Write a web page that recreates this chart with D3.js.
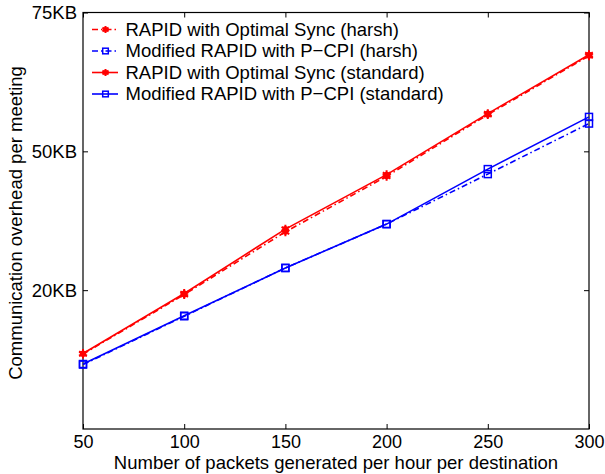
<!DOCTYPE html>
<html>
<head>
<meta charset="utf-8">
<script src="https://cdn.jsdelivr.net/npm/d3@7"></script>
<style>
  body { margin: 0; background: #fff; }
  text { font-family: "Liberation Sans", Arial, sans-serif; fill: #000; }
</style>
</head>
<body>
<svg id="chart" width="605" height="474"></svg>
<script>
// data
let packets = [50, 100, 150, 200, 250, 300];
let rapid_harsh    = [13.5, 24.2, 35.5, 45.5, 56.6, 67.2];
let pcpi_harsh     = [11.6, 20.3, 29.0, 36.9, 45.9, 55.0];
let rapid_standard = [13.6, 24.4, 36.0, 45.8, 56.8, 67.4];
let pcpi_standard  = [11.7, 20.4, 29.0, 36.9, 46.8, 56.2];
let y_ticks = [25, 50, 75];
let y_tick_labels = ["20KB", "50KB", "75KB"];
let series_names = [
    "RAPID with Optimal Sync (harsh)",
    "Modified RAPID with P\u2212CPI (harsh)",
    "RAPID with Optimal Sync (standard)",
    "Modified RAPID with P\u2212CPI (standard)"
];

let chart = d3.select("#chart");
let plot = {left: 83, right: 589, top: 12.5, bottom: 429};
let font_size = "18.5px";

// scales
let x = d3.scaleLinear().domain([50, 300]).range([plot.left, plot.right]);
let y = d3.scaleLinear().domain([0, 75]).range([plot.bottom, plot.top]);

let series = [
    {name: series_names[0], values: rapid_harsh,    color: "#ff0000", dash: "6,3,1.5,3", marker: "star"},
    {name: series_names[1], values: pcpi_harsh,     color: "#0000ff", dash: "6,3,1.5,3", marker: "square"},
    {name: series_names[2], values: rapid_standard, color: "#ff0000", dash: null, marker: "star"},
    {name: series_names[3], values: pcpi_standard,  color: "#0000ff", dash: null, marker: "square"}
];

// axes box
chart.append("rect")
    .attr("x", plot.left).attr("y", plot.top)
    .attr("width", plot.right - plot.left).attr("height", plot.bottom - plot.top)
    .attr("fill", "none").attr("stroke", "#000").attr("stroke-width", 1.2);

// x axis (ticks pointing inward, also mirrored at top)
let xAxis = chart.append("g")
    .attr("transform", "translate(0," + plot.bottom + ")")
    .call(d3.axisBottom(x).tickValues(packets).tickSize(-5).tickPadding(5));
xAxis.select(".domain").remove();
xAxis.selectAll("line").attr("stroke", "#000");
xAxis.selectAll("text").style("font-size", "18px").attr("dy", "0.75em");

let xTop = chart.append("g")
    .attr("transform", "translate(0," + plot.top + ")")
    .call(d3.axisTop(x).tickValues(packets).tickSize(-5).tickFormat(""));
xTop.select(".domain").remove();

// y axis with custom labels
let yAxis = chart.append("g")
    .attr("transform", "translate(" + plot.left + ",0)")
    .call(d3.axisLeft(y).tickValues(y_ticks).tickSize(-5).tickPadding(6)
        .tickFormat(function(d, i) { return y_tick_labels[i]; }));
yAxis.select(".domain").remove();
yAxis.selectAll("text").style("font-size", font_size);

let yRight = chart.append("g")
    .attr("transform", "translate(" + plot.right + ",0)")
    .call(d3.axisRight(y).tickValues(y_ticks).tickSize(-5).tickFormat(""));
yRight.select(".domain").remove();

// axis titles
chart.append("text")
    .attr("x", 336).attr("y", 469)
    .attr("text-anchor", "middle")
    .style("font-size", font_size)
    .text("Number of packets generated per hour per destination");

chart.append("text")
    .attr("transform", "translate(16,223) rotate(-90)")
    .attr("text-anchor", "middle")
    .attr("dy", "0.35em")
    .style("font-size", font_size)
    .text("Communication overhead per meeting");

// lines
let line = d3.line()
    .x(function(d, i) { return x(packets[i]); })
    .y(function(d) { return y(d); });

function drawMarker(g, type, cx, cy, color, k) {
    if (type === "square") {
        g.append("rect")
            .attr("x", cx - 3.5 * k).attr("y", cy - 3.5 * k)
            .attr("width", 7 * k).attr("height", 7 * k)
            .attr("fill", "none").attr("stroke", color).attr("stroke-width", 1.5);
    } else {
        g.append("path")
            .attr("d", d3.symbol().type(d3.symbolAsterisk).size(55 * k * k)())
            .attr("transform", "translate(" + cx + "," + cy + ")")
            .attr("fill", "none").attr("stroke", color).attr("stroke-width", 2);
        g.append("circle")
            .attr("cx", cx).attr("cy", cy).attr("r", 3 * k)
            .attr("fill", color);
    }
}

series.forEach(function(s) {
    let g = chart.append("g");
    g.append("path")
        .datum(s.values)
        .attr("d", line)
        .attr("fill", "none")
        .attr("stroke", s.color)
        .attr("stroke-width", 1.6)
        .attr("stroke-dasharray", s.dash);
    s.values.forEach(function(v, i) {
        drawMarker(g, s.marker, x(packets[i]), y(v), s.color, 1);
    });
});

// legend
let legend = chart.append("g");
series.forEach(function(s, i) {
    let ly = 29.5 + i * 21.5;
    let row = legend.append("g");
    row.append("line")
        .attr("x1", 92).attr("x2", 118)
        .attr("y1", ly).attr("y2", ly)
        .attr("stroke", s.color).attr("stroke-width", 1.6)
        .attr("stroke-dasharray", s.dash);
    drawMarker(row, s.marker, 105.5, ly, s.color, 0.8);
    row.append("text")
        .attr("x", 125.5).attr("y", ly)
        .attr("dy", "0.35em")
        .style("font-size", font_size)
        .text(s.name);
});
</script>
</body>
</html>
